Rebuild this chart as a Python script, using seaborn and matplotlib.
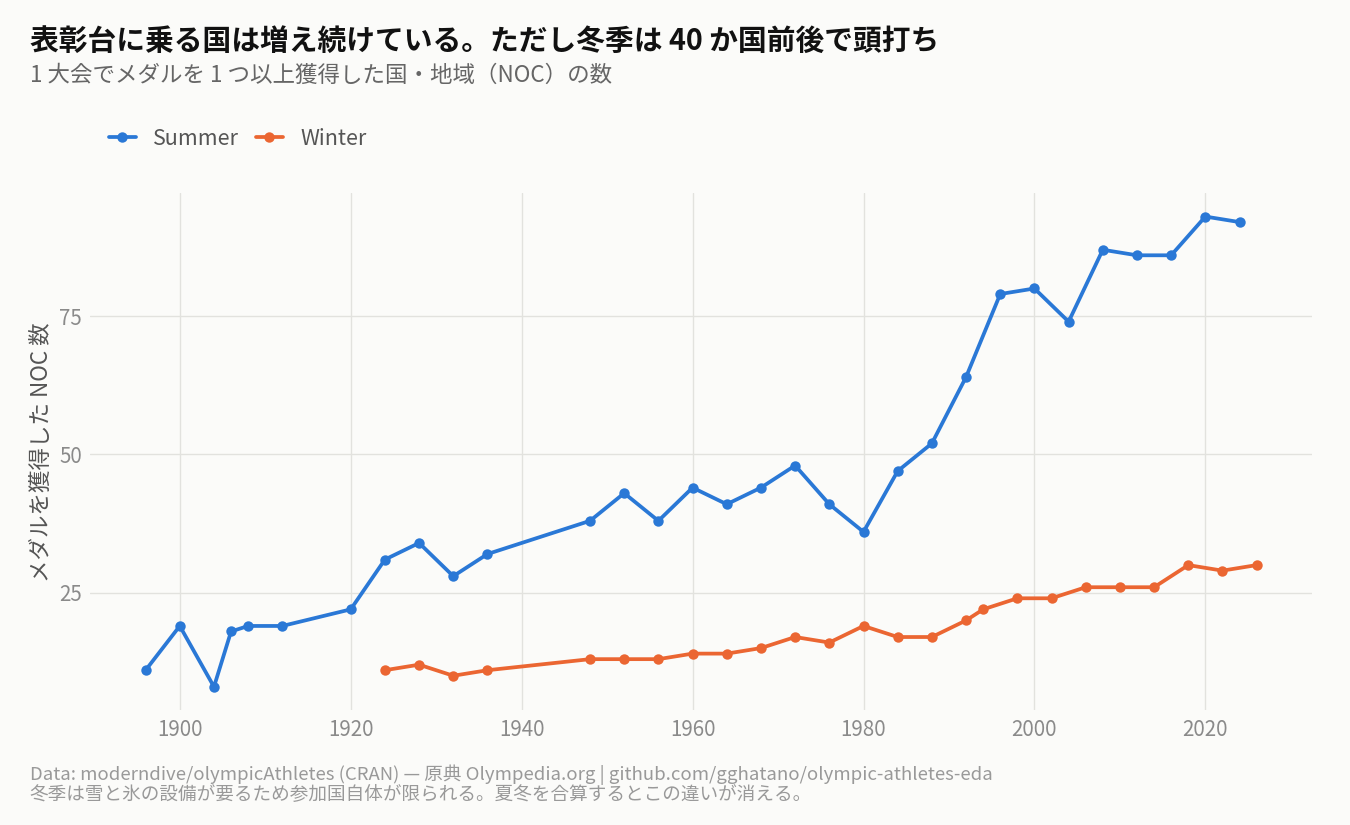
import numpy as np
import pandas as pd
import matplotlib
matplotlib.use("Agg")
import matplotlib.pyplot as plt
import seaborn as sns

# Medal-winning NOCs per Games
summer_years = [1896, 1900, 1904, 1906, 1908, 1912, 1920, 1924, 1928, 1932, 1936,
                1948, 1952, 1956, 1960, 1964, 1968, 1972, 1976, 1980, 1984, 1988,
                1992, 1996, 2000, 2004, 2008, 2012, 2016, 2020, 2024]
summer_nocs = [11, 19, 8, 18, 19, 19, 22, 31, 34, 28, 32,
               38, 43, 38, 44, 41, 44, 48, 41, 36, 47, 52,
               64, 79, 80, 74, 87, 86, 86, 93, 92]
winter_years = [1924, 1928, 1932, 1936, 1948, 1952, 1956, 1960, 1964, 1968, 1972,
                1976, 1980, 1984, 1988, 1992, 1994, 1998, 2002, 2006, 2010, 2014,
                2018, 2022, 2026]
winter_nocs = [11, 12, 10, 11, 13, 13, 13, 14, 14, 15, 17,
               16, 19, 17, 17, 20, 22, 24, 24, 26, 26, 26,
               30, 29, 30]

x_ticks = [1900, 1920, 1940, 1960, 1980, 2000, 2020]
y_ticks = [25, 50, 75]

title = "表彰台に乗る国は増え続けている。ただし冬季は 40 か国前後で頭打ち"
subtitle = "1 大会でメダルを 1 つ以上獲得した国・地域（NOC）の数"
y_label = "メダルを獲得した NOC 数"
footer1 = "Data: moderndive/olympicAthletes (CRAN) — 原典 Olympedia.org | github.com/gghatano/olympic-athletes-eda"
footer2 = "冬季は雪と氷の設備が要るため参加国自体が限られる。夏冬を合算するとこの違いが消える。"

df = pd.concat([
    pd.DataFrame({"year": summer_years, "nocs": summer_nocs, "season": "Summer"}),
    pd.DataFrame({"year": winter_years, "nocs": winter_nocs, "season": "Winter"}),
])

bg = "#fbfbf9"
sns.set_theme(style="whitegrid")
plt.rcParams["font.family"] = ["Noto Sans CJK JP", "DejaVu Sans"]

fig = plt.figure(figsize=(13.5, 8.25), dpi=100, facecolor=bg)
ax = fig.add_axes([0.0667, 0.139, 0.9053, 0.627])
ax.set_facecolor(bg)

palette = {"Summer": "#2a78d6", "Winter": "#eb6632"}
sns.lineplot(data=df, x="year", y="nocs", hue="season", palette=palette,
             marker="o", markersize=7.5, markeredgewidth=0, linewidth=2.7, ax=ax)

ax.set_xticks(x_ticks)
ax.set_yticks(y_ticks)
ax.grid(True, color="#e2e2de", linewidth=1.0)
for s in ax.spines.values():
    s.set_visible(False)
ax.tick_params(axis="both", length=0, labelsize=14.8, labelcolor="#8a8a8a", pad=6)
ax.set_xlabel("")
ax.set_ylabel(y_label, fontsize=16.2, color="#555555", labelpad=4)

leg = ax.legend(loc="center left", bbox_to_anchor=(0.01, 1.105), ncol=2, frameon=False,
                fontsize=15.5, handlelength=1.25, columnspacing=0.8, handletextpad=0.8,
                borderaxespad=0, borderpad=0.3, title=None)
for t in leg.get_texts():
    t.set_color("#555555")

fig.text(0.022, 0.950, title, fontsize=20.7, fontweight="bold", color="#111111", va="center")
fig.text(0.022, 0.909, subtitle, fontsize=16.2, color="#666666", va="center")
fig.text(0.022, 0.061, footer1, fontsize=13.4, color="#999999", va="center")
fig.text(0.022, 0.037, footer2, fontsize=13.4, color="#999999", va="center")

fig.savefig("out.png", dpi=100, facecolor=bg)
